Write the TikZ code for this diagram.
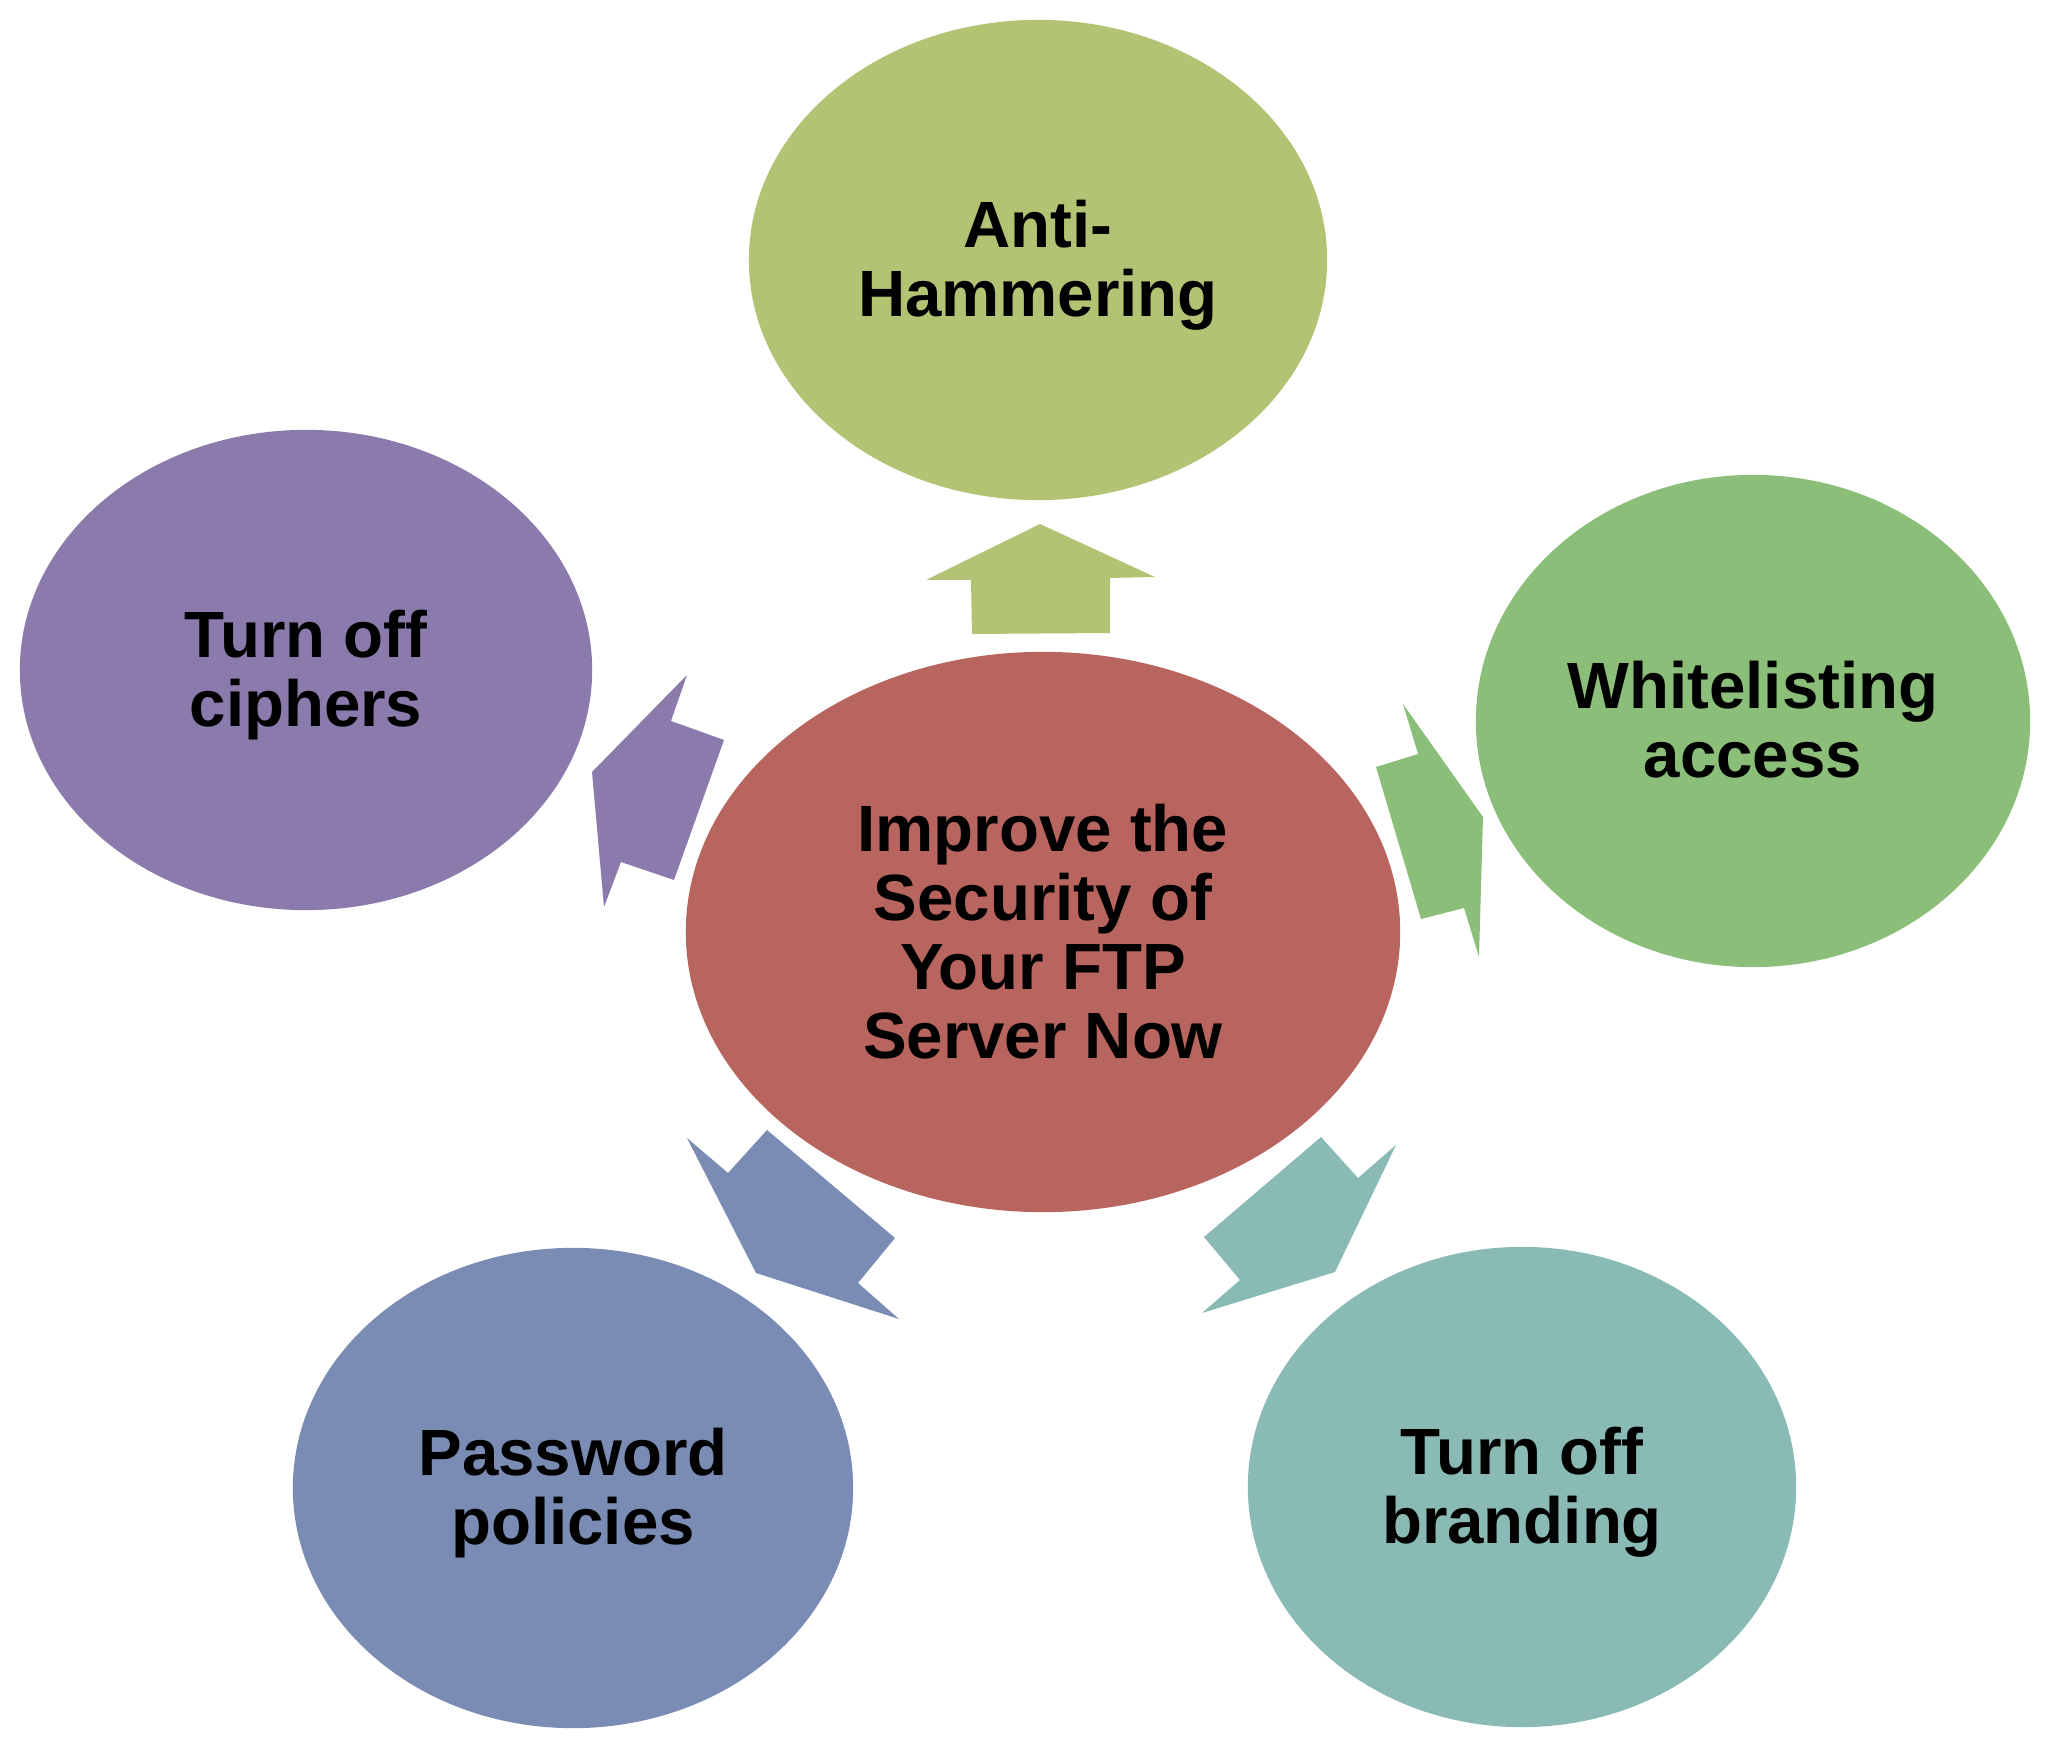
\documentclass[tikz,border=0pt]{standalone}
\usepackage{fontspec}
\setmainfont{Liberation Sans}
\usepackage{tikz}
\usetikzlibrary{shapes.geometric, positioning}

\definecolor{hammercol}{RGB}{179,195,116}
\definecolor{ciphercol}{RGB}{139,123,173}
\definecolor{securecol}{RGB}{184,101,96}
\definecolor{whitecol}{RGB}{139,191,121}
\definecolor{brandcol}{RGB}{138,186,180}
\definecolor{passcol}{RGB}{122,140,180}

\begin{document}
\begin{tikzpicture}[x=0.01cm, y=-0.01cm, font=\fontsize{18.6pt}{19.6pt}\selectfont\bfseries,
		bubble/.style={ellipse, inner sep=0pt, align=center},
		sat/.style={bubble, text depth=0.035cm, minimum height=4.8cm}]
		\useasboundingbox (0, 0) rectangle (2048, 1752);
		\node[bubble, fill=securecol, minimum width=7.14cm, minimum height=5.6cm] (secure) at (1043, 932) {Improve the\\Security of\\Your FTP\\Server Now};
		\node[sat, fill=hammercol, minimum width=5.78cm] (hammer) at (1038, 260) {Anti-\\Hammering};
		\node[sat, fill=whitecol, minimum width=5.54cm, minimum height=4.92cm] (white) at (1753, 721) {Whitelisting\\access};
		\node[sat, fill=brandcol, minimum width=5.48cm] (brand) at (1522, 1487) {Turn off\\branding};
		\node[sat, fill=passcol, minimum width=5.6cm] (pass) at (573, 1488) {Password\\policies};
		\node[sat, fill=ciphercol, minimum width=5.72cm] (cipher) at (306, 670) {Turn off\\ciphers};
		% block arrows from the centre out
		\fill[hammercol] (1040, 524) -- (1155, 577) -- (1110, 578) -- (1110, 633) -- (972, 634) -- (971, 580) -- (926, 580) -- cycle;
		\fill[whitecol] (1483, 817) -- (1479, 957) -- (1464, 908) -- (1421, 919) -- (1376, 767) -- (1418, 754) -- (1403, 704) -- cycle;
		\fill[brandcol] (1335, 1272) -- (1202, 1313) -- (1240, 1280) -- (1204, 1237) -- (1321, 1137) -- (1358, 1178) -- (1396, 1145) -- cycle;
		\fill[passcol] (756, 1273) -- (899, 1319) -- (858, 1283) -- (895, 1238) -- (767, 1130) -- (728, 1173) -- (687, 1138) -- cycle;
		\fill[ciphercol] (592, 772) -- (687, 675) -- (671, 721) -- (724, 740) -- (674, 880) -- (621, 862) -- (604, 907) -- cycle;
	\end{tikzpicture}
\end{document}
